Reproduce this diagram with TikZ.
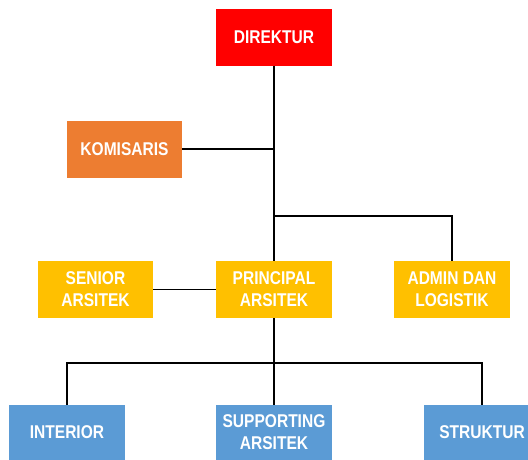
\documentclass[tikz,border=0pt]{standalone}
\usepackage{fontspec}
\setmainfont{Liberation Sans}[FakeStretch=0.84]
\definecolor{cred}{HTML}{FF0000}
\definecolor{corange}{HTML}{ED7D31}
\definecolor{cyellow}{HTML}{FFC000}
\definecolor{cblue}{HTML}{5B9BD5}
\tikzset{
  box/.style={minimum width=116pt, minimum height=57pt, inner sep=0pt, align=center,
    text=white, font=\fontsize{18.5}{22}\selectfont\bfseries},
  link/.style={line width=1.6pt, black}
}
\begin{document}
\begin{tikzpicture}[x=1pt,y=-1pt]
\useasboundingbox (0,0) rectangle (528,459);
\clip (0,0) rectangle (528,459);
\node[box, fill=cred] (dir) at (274,37) {DIREKTUR};
\node[box, fill=corange, minimum width=115pt] (kom) at (124.5,149) {KOMISARIS};
\node[box, fill=cyellow, minimum width=115pt] (sen) at (95.5,289.5) {SENIOR\\ARSITEK};
\node[box, fill=cyellow] (pri) at (274,289.5) {PRINCIPAL\\ARSITEK};
\node[box, fill=cyellow] (adm) at (452,289.5) {ADMIN DAN\\LOGISTIK};
\node[box, fill=cblue, minimum height=55pt] (int) at (67,432.5) {INTERIOR};
\node[box, fill=cblue, minimum height=55pt] (sup) at (274,432.5) {SUPPORTING\\ARSITEK};
\node[box, fill=cblue, minimum height=55pt] (str) at (482,432.5) {STRUKTUR};
\coordinate (j1) at (274,216);
\coordinate (j2) at (274,363);
\draw[link] (dir.south) -- (pri.north);
\draw[link] (kom.east) -- (kom.east -| dir.south);
\draw[link] (j1) -| (adm.north);
\draw[link] (sen.east) -- (pri.west);
\draw[link] (pri.south) -- (sup.north);
\draw[link] (int.north) |- (j2) -| (str.north);
\end{tikzpicture}
\end{document}
